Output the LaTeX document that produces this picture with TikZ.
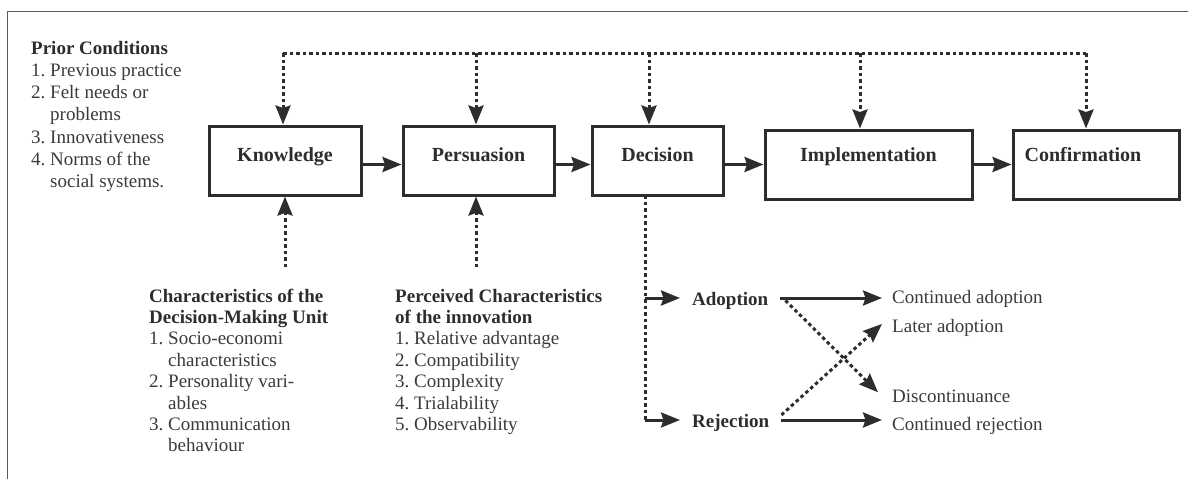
\documentclass[tikz,border=0pt]{standalone}
\usepackage{fontspec}
\setmainfont{Liberation Serif}
\usetikzlibrary{arrows.meta}
\definecolor{ink}{RGB}{45,45,45}
\definecolor{txt}{RGB}{58,58,58}
\definecolor{frame}{RGB}{90,90,90}
\begin{document}
\begin{tikzpicture}[x=1pt,y=-1pt,
  box/.style={draw=ink, line width=3pt, minimum height=69pt, inner sep=0pt,
    font=\fontsize{20}{24}\selectfont\bfseries, text=ink},
  boxA/.style={box, text height=14pt, text depth=12pt},
  boxB/.style={box, text height=12pt, text depth=18pt},
  tip/.style={-{Stealth[length=19pt,width=15pt,inset=2.5pt]}},
  arr/.style={draw=ink, line width=3pt, tip},
  dotline/.style={draw=ink, line width=3pt, dash pattern=on 3.5pt off 3pt},
  dotarr/.style={dotline, tip},
  lbl/.style={text=txt, inner sep=0pt, font=\fontsize{19}{21.4}\selectfont},
  blbl/.style={lbl, text=ink, font=\fontsize{19}{21.4}\selectfont\bfseries}
]
\useasboundingbox (0,0) rectangle (1188,479);

% frame
\coordinate (fa) at (1188,11);
\coordinate (fb) at (7,11);
\coordinate (fc) at (7,479);
\draw[frame, line width=1pt] (fa) -- (fb) -- (fc);

% stage boxes
\node[boxA, minimum width=152pt] (know) at (285,160.5) {Knowledge};
\node[boxA, minimum width=151pt] (pers) at (478.5,160.5) {Persuasion};
\node[boxA, minimum width=131pt] (deci) at (657.5,160.5) {Decision};
\node[boxB, minimum width=207pt] (impl) at (868.5,164.5) {Implementation};
\node[boxB, minimum width=166pt] (conf) at (1096,164.5) {Confirmation\hspace*{26pt}};

% solid arrows between stages
\draw[arr] (know.east |- impl.center) -- (pers.west |- impl.center);
\draw[arr] (pers.east |- impl.center) -- (deci.west |- impl.center);
\draw[arr] (deci.east |- impl.center) -- (impl.west |- impl.center);
\draw[arr] (impl.east) -- (conf.west |- impl.center);

% top dotted feedback line
\coordinate (t1) at (283,53);
\coordinate (t2) at (476,53);
\coordinate (t3) at (649,53);
\coordinate (t4) at (860,53);
\coordinate (t5) at (1086,53);
\draw[dotline] (t1) -- (t5);
\draw[dotarr] (t1) -- (t1 |- know.north);
\draw[dotarr] (t2) -- (t2 |- pers.north);
\draw[dotarr] (t3) -- (t3 |- deci.north);
\draw[dotarr] (t4) -- (t4 |- impl.north);
\draw[dotarr] (t5) -- (t5 |- conf.north);

% prior conditions
\node[lbl, anchor=base west, font=\fontsize{19}{22.3}\selectfont] (prior) at (31,54)
 {\begin{tabular}[t]{@{}l@{\ }l@{}}
  \multicolumn{2}{@{}l@{}}{\color{ink}\bfseries Prior Conditions}\\
  1. & Previous practice\\
  2. & Felt needs or\\
     & problems\\
  3. & Innovativeness\\
  4. & Norms of the\\
     & social systems.
 \end{tabular}};

% decision-making unit
\node[lbl, anchor=base west] (dmu) at (149,302)
 {\begin{tabular}[t]{@{}l@{\ }l@{}}
  \multicolumn{2}{@{}l@{}}{\color{ink}\bfseries Characteristics of the}\\
  \multicolumn{2}{@{}l@{}}{\color{ink}\bfseries Decision-Making Unit}\\
  1. & Socio-economi\\
     & characteristics\\
  2. & Personality vari-\\
     & ables\\
  3. & Communication\\
     & behaviour
 \end{tabular}};

% perceived characteristics
\node[lbl, anchor=base west] (perc) at (395,302)
 {\begin{tabular}[t]{@{}l@{\ }l@{}}
  \multicolumn{2}{@{}l@{}}{\color{ink}\bfseries Perceived Characteristics}\\
  \multicolumn{2}{@{}l@{}}{\color{ink}\bfseries of the innovation}\\
  1. & Relative advantage\\
  2. & Compatibility\\
  3. & Complexity\\
  4. & Trialability\\
  5. & Observability
 \end{tabular}};

\coordinate (b1) at (285,267);
\coordinate (b2) at (476,267);
\draw[dotarr] (b1) -- (b1 |- know.south);
\draw[dotarr] (b2) -- (b2 |- pers.south);

% decision outcomes
\node[blbl, inner xsep=12pt, anchor=base west] (adopt) at (680,305) {Adoption};
\node[blbl, inner xsep=12pt, anchor=base west] (reject) at (680,427) {Rejection};
\node[lbl, inner xsep=10pt, anchor=base west] (cadopt) at (882,303) {Continued adoption};
\node[lbl, inner xsep=10pt, anchor=base west] (later) at (882,332) {Later adoption};
\node[lbl, inner xsep=10pt, anchor=base west] (discont) at (882,402) {Discontinuance};
\node[lbl, inner xsep=10pt, anchor=base west] (crej) at (882,430) {Continued rejection};

\coordinate (d0) at (645,195);
\coordinate (d1) at (645,298);
\coordinate (d2) at (645,420);
\draw[dotline] (d0) -- (d2);
\draw[arr] (d1) -- (d1 -| adopt.west);
\draw[arr] (d2) -- (d2 -| reject.west);
\draw[arr] (adopt.east |- d1) -- (d1 -| cadopt.west);
\draw[arr] (reject.east |- d2) -- (d2 -| crej.west);
\draw[dotarr] ([xshift=5pt]adopt.east) -- ([xshift=-4pt,yshift=3.5pt]discont.west);
\draw[dotarr] ([yshift=7.5pt]reject.east) -- ([yshift=3.5pt]later.west);
\end{tikzpicture}
\end{document}
